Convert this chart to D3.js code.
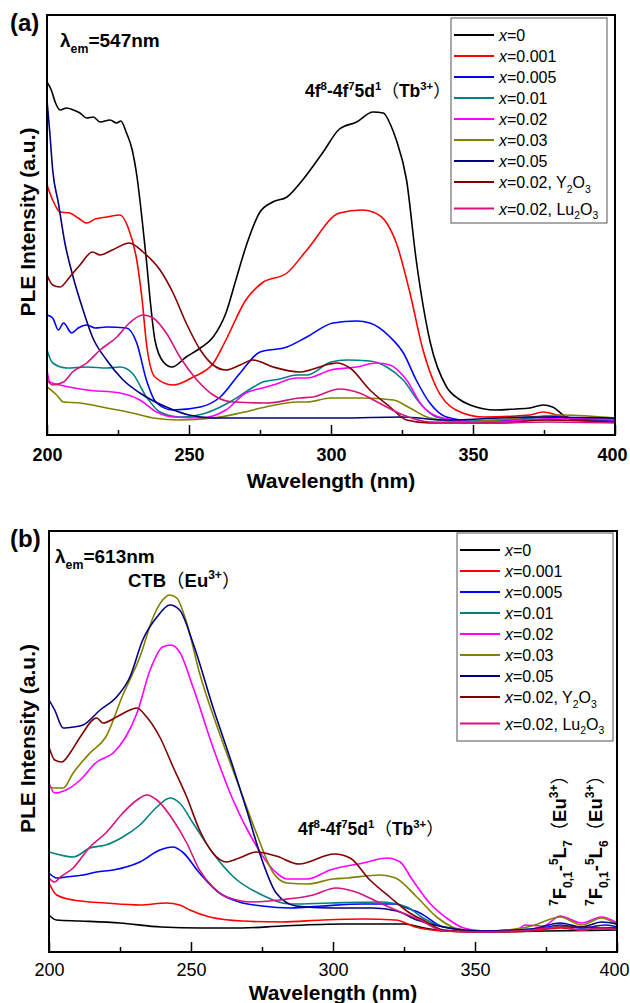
<!DOCTYPE html>
<html>
<head>
<meta charset="utf-8">
<script src="https://cdn.jsdelivr.net/npm/d3@7"></script>
<style>
  body { margin: 0; background: #fff; }
  svg { display: block; }
  text { font-family: "Liberation Sans", Arial, "Noto Sans CJK SC", sans-serif; fill: #000; }
</style>
</head>
<body>
<svg id="chart" width="630" height="1003"></svg>
<script>
// wavelength ticks (nm)
const majorTicks = [200, 250, 300, 350, 400];
const minorTicks = [225, 275, 325, 375];

const legendLabels = ["x=0", "x=0.001", "x=0.005", "x=0.01", "x=0.02", "x=0.03", "x=0.05",
  "x=0.02, Y2O3", "x=0.02, Lu2O3"];
const lineColors = ["#000000", "#ff0000", "#0000ff", "#008080", "#ff00ff", "#808000", "#000080",
  "#800000", "#d4147f"];

// (a) lambda_em = 547 nm, [wavelength, intensity a.u.]
const a_x0 = [[200,353],[201.5,345],[203,332],[204.6,325],[206.9,327],[209.3,325],[211.6,322],[214,317],
  [216.3,318],[218.7,313],[222.2,315],[224.5,312],[226,314],[228,302],[230,285],[231.7,258],[233.5,215],
  [235,175],[236.5,130],[238,95],[241,73],[244,68],[249,78],[254,87],[258.5,98],[263,122],[266.5,155],
  [270,188],[275,223],[279.5,233],[284.5,238],[290,255],[297,282],[303,306],[309,313],[314.8,323],
  [318.4,322],[321,310],[323,295],[326.6,255],[330,175],[335,92],[340.7,48],[345,36],[349,30],[358,25],
  [365,26],[370,27],[374.7,30],[378,28],[383,18],[387.7,16],[400,16]];
const a_x001 = [[200,250],[202,235],[204.6,223],[208,222],[211,217],[214,212],[217,216],[221,218],
  [225.7,220],[228.5,208],[231.6,175],[233.5,135],[235,92],[238,58],[244.4,50],[251.5,58],[258.6,72],
  [263,95],[270,135],[275.7,152],[284.5,162],[291.5,185],[303,222],[311,225],[314.8,223],[319.6,212],
  [323,192],[327.8,142],[332.4,85],[337,48],[344,25],[353.6,18],[370,20],[374.7,23],[379.5,20],
  [386.5,15],[400,13]];
const a_x005 = [[200,120],[202,117],[204,105],[205.8,112],[208.7,102],[211,107],[214,110],[217,107],
  [221,108],[228,107],[231.6,92],[235,55],[238.6,32],[244.4,25],[254,28],[261,38],[268,62],[275,83],
  [284.5,88],[291.5,98],[300.7,112],[309,114],[313.7,112],[320.8,98],[325.5,82],[330,55],[334.8,32],
  [340.7,18],[352.5,13],[370,17],[377,19],[387.7,15],[400,14]];
const a_x01 = [[200,85],[202,72],[207,67],[214,68],[221,67],[225.7,68],[230,62],[235,38],[239.8,23],
  [246.8,18],[256,22],[265,34],[272.7,48],[276,53],[282,56],[288,60],[291.5,60],[300,73],[305.5,75],
  [313.7,74],[319.6,68],[325.4,55],[331.3,32],[337,18],[346.5,14],[370,16],[381.7,15],[400,13]];
const a_x02 = [[200,65],[201,53],[204.6,50],[214,45],[225.7,42],[232.7,35],[238.6,23],[244.4,18],
  [254,17],[263,25],[270,42],[276,47],[279.6,50],[288,57],[291.5,57],[300,65],[309,68],[316,72],
  [320.8,70],[326.6,55],[332.4,28],[339.5,17],[353.6,13],[370,15],[381.7,17],[400,15]];
const a_x03 = [[200,48],[203.4,40],[205.8,33],[211.6,32],[221,27],[230,22],[237.4,17],[246.8,15],
  [258.6,17],[268,22],[277,28],[288,33],[291.5,33],[300,37],[311,37],[322,35],[327.8,27],[334.8,17],
  [346.5,13],[370,18],[381.7,20],[400,17]];
const a_x05 = [[200,335],[201,302],[202,265],[204,232],[206.3,192],[209.2,158],[212.7,125],[216,98],
  [221,75],[226.8,55],[232.7,42],[242,28],[250,20],[258.5,17],[280,17],[303,17],[325,18],[340,15],
  [370,18],[400,17]];
const a_y2o3 = [[200,160],[202,150],[204.6,148],[208,158],[211.6,170],[216,183],[218.7,180],[223,185],
  [229,192],[233.8,183],[239.8,165],[244.4,142],[249,112],[254,85],[258.5,70],[263,65],[268,70],
  [272.5,75],[279.6,68],[289,63],[299.6,71],[302,72],[306.7,67],[313.7,45],[320.8,28],[326.6,15],
  [334.8,12],[358.4,12],[376,15],[400,13]];
const a_lu2o3 = [[200,55],[202,50],[205.8,53],[209,63],[214,72],[218.7,85],[224.6,98],[229,112],
  [233.8,120],[237.4,117],[242,102],[246.8,78],[252.8,55],[258.5,40],[265.6,33],[277.4,32],[289,37],
  [293.7,38],[303,46],[310,42],[317,32],[325.4,20],[334.8,13],[358.4,12],[376,13],[400,12]];

// (b) lambda_em = 613 nm
const b_x0 = [[200,37],[202.6,32],[211,31],[225,29],[239.5,25],[253.8,24],[268,24],[282,26],[303.5,28],
  [325,28],[332,24],[339,21],[353,20],[374.7,21],[400,22]];
const b_x001 = [[200,69],[202.7,57],[208.5,52],[220,49],[232,47],[241.4,49],[246,47],[249.6,42],
  [256.6,35],[268,31],[282,30],[296.4,32],[310.6,33],[322,32],[329,25],[339,21],[353,20],[370,21],
  [380,24],[387.5,22],[394.6,24],[400,22]];
const b_x005 = [[200,79],[202.7,74],[206,75],[212,77],[216.8,80],[222.6,82],[232,90],[239,102],
  [243.7,105],[247,100],[253,79],[260,59],[267,50],[275,46],[285,44],[296,46],[310.6,48],[322,48],
  [326,44],[330.6,39],[339,25],[353,21],[370,22],[380,27],[387.5,24],[396,27],[400,25]];
const b_x01 = [[200,100],[204,97],[208.5,95],[214.4,104],[220,107],[226,115],[232,127],[238,145],
  [242.6,154],[246,149],[250.7,129],[257.7,99],[265,75],[275,57],[285,48],[299,49],[316.5,50],[326,45],
  [331.7,34],[339,25],[353,21],[370,23],[380,25],[400,24]];
const b_x02 = [[200,169],[202,159],[206,162],[211,172],[216.8,190],[222.6,199],[227,215],[231,239],
  [235.6,282],[240,305],[243,307],[246,300],[250.7,265],[257.7,205],[264.8,152],[271.8,112],[279,82],
  [283.8,73],[291,73],[299,82],[310.6,89],[319,94],[323.6,90],[328,72],[334,49],[340,34],[346,24],
  [353,21],[364.7,22],[367.6,27],[374,26],[380,36],[387.5,29],[394.6,35],[400,29]];
const b_x03 = [[200,165],[202,164],[205,164],[208.5,179],[214.4,199],[220,215],[226,257],[232,295],
  [236.7,335],[240,352],[242.6,357],[245,354],[248.5,329],[253,279],[260,219],[267,165],[273,119],
  [279,79],[283.8,69],[291,68],[300,73],[305,74],[316.5,77],[322,74],[329.5,55],[336.5,35],[343,24],
  [353,20],[364,23],[370,26],[380,35],[387.5,27],[394.6,34],[400,27]];
const b_x05 = [[200,252],[202,242],[205,224],[208.5,225],[212,227],[218,242],[223.8,255],[228.5,275],
  [233,312],[238,335],[242.6,347],[246,342],[250.7,309],[257.7,245],[264.8,185],[269.6,142],[275,92],
  [280,59],[287,46],[299,44],[314,44],[322.5,41],[329.6,32],[339,25],[353,21],[370,23],[380,29],
  [387.5,25],[394.6,30],[400,28]];
const b_y2o3 = [[200,205],[202,192],[204.5,190],[207.4,199],[211,215],[216.8,234],[219,229],[223.8,235],
  [228.5,242],[230.9,244],[234.4,235],[239,215],[243.7,185],[248.5,155],[253,122],[257.7,99],
  [262.6,90],[267,94],[273,100],[280,96],[288,88],[300.5,98],[306,94],[313,72],[320,55],[327,39],
  [331.7,32],[339,22],[353,20],[370,22],[380,25],[400,24]];
const b_lu2o3 = [[200,74],[202,70],[204,75],[208.5,84],[214.4,105],[220,119],[226,139],[231,152],
  [234.4,157],[238,152],[243.7,132],[248.5,109],[253,82],[257.7,65],[262.6,55],[271.8,50],[281,52],
  [293,57],[301,64],[308,60],[316.5,49],[324.6,39],[330.6,32],[339,21],[353,20],[370,22],[380,25],
  [387.5,22],[394.6,24],[400,22]];

const svg = d3.select('#chart');

// builds tspans: kind n = normal, i = italic, sub, sup, cjk (full width bracket)
function rich(textSel, segs, size) {
  let shift = 0;
  for (let [str, kind] of segs) {
    let ts = textSel.append('tspan').text(str);
    let target = 0;
    if (kind === 'sub') target = size * 0.3;
    if (kind === 'sup') target = -size * 0.42;
    ts.attr('dy', target - shift);
    shift = target;
    if (kind === 'sub' || kind === 'sup') ts.attr('font-size', size * 0.65);
    if (kind === 'i') ts.attr('font-style', 'italic');
    if (kind === 'cjk') ts.attr('font-family', '"Noto Sans CJK SC", sans-serif').attr('font-weight', 'normal');
  }
  return textSel;
}

function legendSegs(label) {
  // leading x is italic, digits after a letter are subscripts
  let segs = [['x', 'i']];
  let parts = label.slice(1).split(/(?<=[A-Za-z])(\d)/);
  parts.forEach((p, i) => { if (p) segs.push([p, i % 2 ? 'sub' : 'n']); });
  return segs;
}

function drawPanel(p) {
  let g = svg.append('g');
  let x = d3.scaleLinear().domain([200, 400]).range([p.left, p.right]);
  let y = d3.scaleLinear().domain([0, p.ymax]).range([p.bottom, p.top]);

  let clipId = 'clip' + p.name;
  svg.append('clipPath').attr('id', clipId).append('rect')
    .attr('x', p.left).attr('y', p.top)
    .attr('width', p.right - p.left).attr('height', p.bottom - p.top);

  let line = d3.line()
    .x(d => x(d[0]))
    .y(d => y(d[1]))
    .curve(d3.curveMonotoneX);

  let gLines = g.append('g').attr('clip-path', `url(#${clipId})`);
  p.series.forEach((s, i) => {
    gLines.append('path')
      .attr('d', line(s))
      .attr('fill', 'none')
      .attr('stroke', lineColors[i])
      .attr('stroke-width', 1.6)
      .attr('stroke-linejoin', 'round');
  });

  // inward ticks
  let major = d3.axisBottom(x).tickValues(majorTicks).tickSizeInner(-10).tickSizeOuter(0)
    .tickPadding(p.tickPad).tickFormat(d3.format('d'));
  let minor = d3.axisBottom(x).tickValues(minorTicks).tickSizeInner(-5).tickSizeOuter(0)
    .tickFormat('');
  let gx = g.append('g').attr('transform', `translate(0,${p.bottom})`).call(major);
  let gm = g.append('g').attr('transform', `translate(0,${p.bottom})`).call(minor);
  [gx, gm].forEach(a => {
    a.select('.domain').remove();
    a.selectAll('line').attr('stroke', '#000').attr('stroke-width', 1.5);
  });
  gx.selectAll('text')
    .attr('font-size', 18)
    .attr('font-weight', p.boldTicks ? 'bold' : 'normal')
    .attr('font-family', '"Liberation Sans", Arial, sans-serif')
    .attr('fill', '#000')
    .attr('dx', d => d === 400 ? -3 : 0);

  g.append('rect')
    .attr('x', p.left).attr('y', p.top)
    .attr('width', p.right - p.left).attr('height', p.bottom - p.top)
    .attr('fill', 'none').attr('stroke', '#000').attr('stroke-width', 2);

  g.append('text')
    .attr('x', (p.left + p.right) / 2).attr('y', p.bottom + p.titlePad)
    .attr('text-anchor', 'middle').attr('font-size', 21).attr('font-weight', 'bold')
    .text('Wavelength (nm)');

  g.append('text')
    .attr('transform', `translate(35,${(p.top + p.bottom) / 2 - 3}) rotate(-90)`)
    .attr('text-anchor', 'middle').attr('font-size', 21).attr('font-weight', 'bold')
    .text('PLE Intensity (a.u.)');

  g.append('text')
    .attr('x', 10).attr('y', p.top + 16)
    .attr('font-family', '"Liberation Serif", "Times New Roman", serif')
    .attr('font-size', 24).attr('font-weight', 'bold')
    .text(p.name === 'a' ? '(a)' : '(b)');

  // lambda_em
  let lam = g.append('text')
    .attr('x', p.left + p.lamDx).attr('y', p.top + 32)
    .attr('font-size', 19).attr('font-weight', 'bold');
  rich(lam, [['λ', 'n'], ['em', 'sub'], ['=' + p.lambda + 'nm', 'n']], 19);

  // legend
  let lg = g.append('g').attr('transform', `translate(${p.legX},${p.legY})`);
  lg.append('rect')
    .attr('width', 156).attr('height', p.legH)
    .attr('fill', '#fff').attr('stroke', '#555').attr('stroke-width', 1);
  let rowY = 17;
  legendLabels.forEach((lab, i) => {
    if (i > 0) rowY += /[A-Z]\d/.test(legendLabels[i - 1]) ? 26.5 : 21;
    lg.append('line')
      .attr('x1', 3).attr('x2', 43).attr('y1', rowY).attr('y2', rowY)
      .attr('stroke', lineColors[i]).attr('stroke-width', 2);
    let t = lg.append('text')
      .attr('x', 48).attr('y', rowY + 6)
      .attr('font-size', 16);
    rich(t, legendSegs(lab), 16);
  });

  return {g, x, y};
}

const pa = drawPanel({
  name: 'a', left: 47, right: 615, top: 15, bottom: 435, ymax: 420,
  series: [a_x0, a_x001, a_x005, a_x01, a_x02, a_x03, a_x05, a_y2o3, a_lu2o3],
  boldTicks: true, tickPad: 13, titlePad: 53, lambda: 547, lamDx: 13,
  legX: 451, legY: 18, legH: 205
});

const pb = drawPanel({
  name: 'b', left: 49, right: 617, top: 531, bottom: 952, ymax: 421,
  series: [b_x0, b_x001, b_x005, b_x01, b_x02, b_x03, b_x05, b_y2o3, b_lu2o3],
  boldTicks: false, tickPad: 11, titlePad: 48, lambda: 613, lamDx: 6,
  legX: 457, legY: 533, legH: 208
});

const tbSegs = [['4f', 'n'], ['8', 'sup'], ['-4f', 'n'], ['7', 'sup'], ['5d', 'n'], ['1', 'sup'],
  ['（', 'cjk'], ['Tb', 'n'], ['3+', 'sup'], ['）', 'cjk']];

rich(pa.g.append('text').attr('x', 305).attr('y', 97).attr('font-size', 17.5).attr('font-weight', 'bold'), tbSegs, 17.5);
rich(pb.g.append('text').attr('x', 298).attr('y', 835).attr('font-size', 17.5).attr('font-weight', 'bold'), tbSegs, 17.5);

rich(pb.g.append('text').attr('x', 128).attr('y', 587).attr('font-size', 18.5).attr('font-weight', 'bold'),
  [['CTB', 'n'], ['（', 'cjk'], ['Eu', 'n'], ['3+', 'sup'], ['）', 'cjk']], 18.5);

// rotated Eu3+ f-f transition labels
[[566, 'L', '7'], [602, 'L', '6']].forEach(([bx, l, n]) => {
  let t = pb.g.append('text')
    .attr('transform', `translate(${bx},906) rotate(-90)`)
    .attr('font-size', 18.5).attr('font-weight', 'bold');
  rich(t, [['7', 'sup'], ['F', 'n'], ['0,1', 'sub'], ['-', 'n'], ['5', 'sup'], [l, 'n'], [n, 'sub'],
    ['（', 'cjk'], ['Eu', 'n'], ['3+', 'sup'], ['）', 'cjk']], 18.5);
});
</script>
</body>
</html>
